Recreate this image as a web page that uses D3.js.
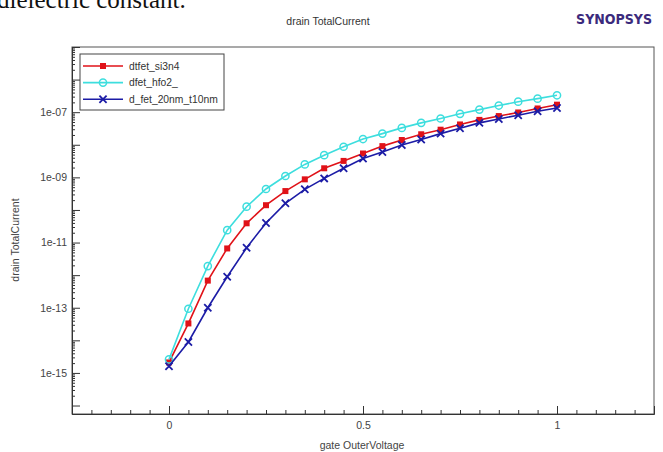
<!DOCTYPE html>
<html>
<head>
<meta charset="utf-8">
<script src="https://cdn.jsdelivr.net/npm/d3@7"></script>
<style>
    body { margin: 0; background: #fff; }
    svg { display: block; }
    text { font-family: "Liberation Sans", Arial, sans-serif; }
</style>
</head>
<body>
<svg id="chart" width="663" height="452"></svg>
<script>
const gateVoltage = [0, 0.05, 0.1, 0.15, 0.2, 0.25, 0.3, 0.35, 0.4, 0.45, 0.5,
    0.55, 0.6, 0.65, 0.7, 0.75, 0.8, 0.85, 0.9, 0.95, 1];

const si3n4 = [2.1e-15, 3.3e-14, 6.8e-13, 6.6e-12, 3.9e-11, 1.4e-10, 3.8e-10, 8.7e-10,
    1.9e-9, 3.2e-9, 5.4e-9, 9.1e-9, 1.4e-8, 2.1e-8, 2.9e-8, 4.2e-8, 5.8e-8, 7.6e-8,
    9.8e-8, 1.3e-7, 1.7e-7];

const hfo2 = [2.6e-15, 9.3e-14, 1.9e-12, 2.4e-11, 1.26e-10, 4.4e-10, 1.1e-9, 2.5e-9,
    4.8e-9, 8.7e-9, 1.5e-8, 2.2e-8, 3.3e-8, 4.7e-8, 6.4e-8, 8.9e-8, 1.2e-7, 1.6e-7,
    2.1e-7, 2.6e-7, 3.3e-7];

const fet20nm = [1.6e-15, 8.9e-15, 1.0e-13, 8.9e-13, 6.9e-12, 4.0e-11, 1.6e-10, 4.3e-10,
    9.3e-10, 1.9e-9, 3.8e-9, 6.0e-9, 9.8e-9, 1.45e-8, 2.2e-8, 3.2e-8, 4.7e-8, 6.2e-8,
    8.1e-8, 1.07e-7, 1.35e-7];

const seriesNames = ["dtfet_si3n4", "dfet_hfo2_", "d_fet_20nm_t10nm"];
const xTickLabels = [0, 0.5, 1];
const yTickLabels = [1e-15, 1e-13, 1e-11, 1e-9, 1e-7];

const svg = d3.select("#chart");
const plot = { left: 72, right: 654, top: 47, bottom: 414 };

const x = d3.scaleLinear().domain([-0.25, 1.25]).range([plot.left, plot.right]);
const y = d3.scaleLog().domain([Math.pow(10, -16.26), 1e-5]).range([plot.bottom, plot.top]);

const series = [
    { name: seriesNames[0], values: si3n4, color: "#e01218", marker: "square" },
    { name: seriesNames[1], values: hfo2, color: "#3ddede", marker: "circle" },
    { name: seriesNames[2], values: fet20nm, color: "#1c1ca6", marker: "cross" },
];

// Clipped caption text from the page above
svg.append("text")
    .attr("x", -3)
    .attr("y", 8)
    .style("font-family", "'Liberation Serif', 'Times New Roman', serif")
    .style("font-size", "25px")
    .attr("fill", "#111")
    .text("dielectric constant.");

// Logo
svg.append("text")
    .attr("x", 652)
    .attr("y", 24)
    .attr("text-anchor", "end")
    .style("font-family", "'Liberation Sans Narrow', 'DejaVu Sans Condensed', sans-serif")
    .style("font-size", "14px")
    .style("font-weight", "bold")
    .attr("fill", "#3b2a7c")
    .text("SYNOPSYS");

// Title
svg.append("text")
    .attr("x", 328)
    .attr("y", 25)
    .attr("text-anchor", "middle")
    .style("font-size", "10.5px")
    .attr("fill", "#333")
    .text("drain TotalCurrent");

// Frame
svg.append("rect")
    .attr("x", plot.left)
    .attr("y", plot.top)
    .attr("width", plot.right - plot.left)
    .attr("height", plot.bottom - plot.top)
    .attr("fill", "none")
    .attr("stroke", "#555")
    .attr("stroke-width", 1);

// X axis ticks
const xMinor = d3.range(-5, 26).map(i => i * 0.05);
svg.append("g")
    .attr("transform", `translate(0,${plot.bottom})`)
    .call(d3.axisBottom(x).tickValues(xMinor).tickSize(-4).tickFormat(""))
    .call(g => g.select(".domain").remove())
    .call(g => g.selectAll("line").attr("stroke", "#333"));

svg.append("g")
    .attr("transform", `translate(0,${plot.bottom})`)
    .call(d3.axisBottom(x).tickValues(xTickLabels).tickSize(-8).tickPadding(6)
        .tickFormat(d3.format("")))
    .call(g => g.select(".domain").attr("stroke", "#333"))
    .call(g => g.selectAll("line").attr("stroke", "#333"))
    .call(g => g.selectAll("text")
        .attr("dy", "0.85em")
        .style("font-size", "10.5px")
        .attr("fill", "#444"));

// Y axis ticks
const decades = d3.range(-16, -4).map(e => Math.pow(10, e));
const yMinor = [];
decades.forEach(d => {
    for (let k = 2; k < 10; k++) {
        const v = d * k;
        if (v > y.domain()[0] && v < y.domain()[1]) yMinor.push(v);
    }
});

svg.append("g")
    .attr("transform", `translate(${plot.left},0)`)
    .call(d3.axisLeft(y).tickValues(yMinor).tickSize(-3).tickFormat(""))
    .call(g => g.select(".domain").remove())
    .call(g => g.selectAll("line").attr("stroke", "#333"));

svg.append("g")
    .attr("transform", `translate(${plot.left},0)`)
    .call(d3.axisLeft(y).tickValues(decades.filter(d => d >= y.domain()[0]))
        .tickSize(-8).tickFormat(""))
    .call(g => g.select(".domain").attr("stroke", "#333"))
    .call(g => g.selectAll("line").attr("stroke", "#333"));

svg.append("g")
    .attr("transform", `translate(${plot.left},0)`)
    .call(d3.axisLeft(y).tickValues(yTickLabels).tickSize(0).tickPadding(5)
        .tickFormat(d => "1e-" + String(-Math.round(Math.log10(d))).padStart(2, "0")))
    .call(g => g.select(".domain").remove())
    .call(g => g.selectAll("text")
        .style("font-size", "10.5px")
        .attr("fill", "#444"));

// Axis labels
svg.append("text")
    .attr("x", 362)
    .attr("y", 449)
    .attr("text-anchor", "middle")
    .style("font-size", "10.5px")
    .attr("fill", "#444")
    .text("gate OuterVoltage");

svg.append("text")
    .attr("transform", "translate(19,240) rotate(-90)")
    .attr("text-anchor", "middle")
    .style("font-size", "10.5px")
    .attr("fill", "#444")
    .text("drain TotalCurrent");

// Markers
function drawMarker(g, type, color) {
    if (type === "square") {
        g.append("rect")
            .attr("x", -3).attr("y", -3)
            .attr("width", 6).attr("height", 6)
            .attr("fill", color);
    } else if (type === "circle") {
        g.append("circle")
            .attr("r", 3.6)
            .attr("fill", "none")
            .attr("stroke", color)
            .attr("stroke-width", 1.5);
    } else {
        g.append("path")
            .attr("d", "M-3.6,-3.6L3.6,3.6M-3.6,3.6L3.6,-3.6")
            .attr("stroke", color)
            .attr("stroke-width", 1.8);
    }
}

// Render series
const line = d3.line()
    .x(d => x(d[0]))
    .y(d => y(d[1]));

series.forEach(s => {
    const pts = gateVoltage.map((v, i) => [v, s.values[i]]);
    const g = svg.append("g");
    g.append("path")
        .attr("d", line(pts))
        .attr("fill", "none")
        .attr("stroke", s.color)
        .attr("stroke-width", 1.6);
    pts.forEach(p => {
        drawMarker(g.append("g").attr("transform", `translate(${x(p[0])},${y(p[1])})`),
            s.marker, s.color);
    });
});

// Legend
const legend = svg.append("g").attr("transform", "translate(80,54)");
legend.append("rect")
    .attr("width", 144)
    .attr("height", 56)
    .attr("fill", "#fff")
    .attr("stroke", "#444");

series.forEach((s, i) => {
    const row = legend.append("g").attr("transform", `translate(0,${12 + i * 16.6})`);
    row.append("line")
        .attr("x1", 3).attr("x2", 43)
        .attr("stroke", s.color)
        .attr("stroke-width", 1.6);
    drawMarker(row.append("g").attr("transform", "translate(23,0)"), s.marker, s.color);
    row.append("text")
        .attr("x", 49)
        .attr("dy", "0.35em")
        .style("font-size", "10.3px")
        .attr("fill", "#333")
        .text(s.name);
});
</script>
</body>
</html>
